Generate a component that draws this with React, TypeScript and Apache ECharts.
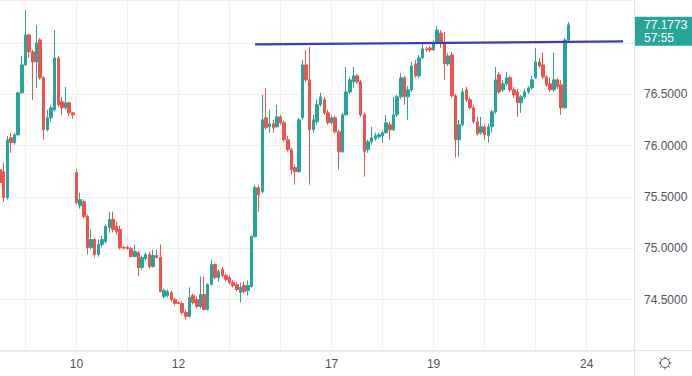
import React, { useEffect, useRef } from 'react';
import * as echarts from 'echarts';

// number of time slots on the x axis (trading hours, incl. empty space on the right)
const slotCount = 175;

// day boundaries: [slot index, day label, show label]
const dayTicks: [number, string, boolean][] = [
  [7, '9', false], [21, '10', true], [35, '11', false], [49, '12', true],
  [63, '13', false], [77, '16', false], [91, '17', true], [105, '18', false],
  [119, '19', true], [133, '20', false], [147, '23', false], [161, '24', true],
];

// candles: [open, close, low, high]
const candles: number[][] = [
  [75.766, 75.640, 75.611, 75.805], [75.747, 75.494, 75.455, 75.834], [75.494, 76.058, 75.474, 76.097],
  [76.077, 76.029, 75.931, 76.126], [76.029, 76.106, 76.009, 76.126], [76.106, 76.515, 76.097, 76.524],
  [76.515, 76.787, 76.505, 76.874], [76.787, 77.079, 76.777, 77.322], [77.079, 76.913, 76.855, 77.088],
  [76.913, 76.816, 76.447, 76.933], [76.816, 77.001, 76.563, 77.176], [77.030, 76.661, 76.641, 77.050],
  [76.661, 76.155, 76.058, 76.680], [76.155, 76.272, 76.136, 76.350], [76.272, 76.369, 76.233, 76.398],
  [76.350, 76.855, 76.330, 77.127], [76.855, 76.398, 76.379, 76.874], [76.427, 76.369, 76.301, 76.476],
  [76.369, 76.418, 76.350, 76.573], [76.418, 76.320, 76.291, 76.427], [76.320, 76.301, 76.262, 76.330],
  [75.737, 75.445, 75.426, 75.776], [75.416, 75.474, 75.387, 75.543], [75.455, 75.309, 75.290, 75.474],
  [75.309, 75.008, 74.940, 75.329], [75.008, 75.086, 74.988, 75.183], [75.086, 74.940, 74.911, 75.105],
  [74.940, 75.037, 74.920, 75.086], [75.037, 75.086, 75.008, 75.124], [75.066, 75.212, 75.047, 75.231],
  [75.202, 75.280, 75.154, 75.358], [75.280, 75.183, 75.154, 75.358], [75.212, 75.163, 75.134, 75.261],
  [75.183, 75.008, 74.988, 75.222], [75.008, 75.003, 74.988, 75.027], [75.008, 74.998, 74.988, 75.027],
  [74.998, 74.920, 74.911, 75.017], [74.920, 74.969, 74.911, 75.037], [74.959, 74.813, 74.726, 74.969],
  [74.813, 74.911, 74.794, 74.930], [74.901, 74.940, 74.881, 74.959], [74.940, 74.823, 74.804, 74.969],
  [74.823, 74.930, 74.813, 74.988], [74.930, 74.911, 74.901, 74.988], [74.911, 74.580, 74.570, 75.037],
  [74.531, 74.590, 74.512, 74.609], [74.541, 74.580, 74.522, 74.599], [74.570, 74.502, 74.483, 74.590],
  [74.502, 74.463, 74.444, 74.522], [74.473, 74.463, 74.454, 74.483], [74.463, 74.376, 74.356, 74.483],
  [74.376, 74.337, 74.308, 74.395], [74.337, 74.522, 74.327, 74.619], [74.541, 74.473, 74.454, 74.560],
  [74.502, 74.434, 74.415, 74.531], [74.434, 74.551, 74.415, 74.726], [74.551, 74.405, 74.395, 74.726],
  [74.405, 74.648, 74.395, 74.658], [74.648, 74.842, 74.638, 74.891], [74.842, 74.716, 74.697, 74.852],
  [74.716, 74.774, 74.677, 74.794], [74.794, 74.735, 74.716, 74.813], [74.735, 74.697, 74.677, 74.755],
  [74.716, 74.667, 74.648, 74.735], [74.667, 74.638, 74.619, 74.687], [74.648, 74.599, 74.580, 74.667],
  [74.570, 74.619, 74.473, 74.667], [74.638, 74.580, 74.560, 74.677], [74.590, 74.638, 74.541, 74.687],
  [74.629, 75.115, 74.619, 75.124], [75.115, 75.591, 75.105, 75.620], [75.591, 75.523, 75.358, 75.620],
  [75.552, 76.252, 75.533, 76.495], [76.272, 76.175, 76.155, 76.563], [76.184, 76.213, 76.126, 76.350],
  [76.213, 76.175, 76.126, 76.252], [76.184, 76.281, 76.175, 76.398], [76.281, 76.223, 76.204, 76.301],
  [76.223, 76.058, 76.038, 76.243], [76.058, 75.961, 75.941, 76.097], [75.961, 75.766, 75.718, 75.980],
  [75.786, 75.747, 75.620, 75.815], [75.747, 76.252, 75.737, 76.272], [76.272, 76.787, 76.252, 76.836],
  [76.787, 76.641, 76.622, 76.933], [76.641, 76.155, 75.620, 76.962], [76.155, 76.252, 76.126, 76.301],
  [76.233, 76.398, 76.204, 76.447], [76.398, 76.476, 76.379, 76.515], [76.447, 76.320, 76.301, 76.476],
  [76.320, 76.223, 76.204, 76.350], [76.223, 76.272, 76.204, 76.291], [76.272, 76.136, 76.116, 76.291],
  [76.136, 75.941, 75.766, 76.155], [75.941, 76.301, 75.931, 76.320], [76.301, 76.524, 76.291, 76.768],
  [76.524, 76.641, 76.505, 76.670], [76.622, 76.680, 76.563, 76.768], [76.680, 76.622, 76.602, 76.700],
  [76.622, 76.301, 76.281, 76.641], [76.301, 75.941, 75.698, 76.320], [75.961, 76.038, 75.931, 76.058],
  [76.038, 76.077, 76.009, 76.184], [76.068, 76.097, 76.048, 76.126], [76.087, 76.106, 76.068, 76.126],
  [76.097, 76.126, 76.029, 76.145], [76.126, 76.223, 76.116, 76.301], [76.204, 76.155, 76.058, 76.233],
  [76.155, 76.301, 76.145, 76.476], [76.301, 76.476, 76.281, 76.495], [76.476, 76.661, 76.456, 76.709],
  [76.661, 76.476, 76.398, 76.680], [76.476, 76.544, 76.252, 76.583], [76.544, 76.777, 76.524, 76.816],
  [76.797, 76.680, 76.661, 76.836], [76.680, 76.855, 76.661, 76.884], [76.855, 76.943, 76.845, 77.001],
  [76.943, 76.933, 76.913, 76.962], [76.952, 76.933, 76.913, 76.972], [76.933, 77.001, 76.923, 77.030],
  [77.001, 77.127, 76.991, 77.166], [77.098, 77.001, 76.952, 77.127], [77.001, 76.797, 76.641, 77.108],
  [76.797, 76.874, 76.777, 76.904], [76.884, 76.486, 76.466, 76.913], [76.486, 76.058, 75.883, 76.505],
  [76.058, 76.204, 75.893, 76.252], [76.204, 76.524, 76.184, 76.563], [76.544, 76.447, 76.427, 76.573],
  [76.447, 76.369, 76.350, 76.476], [76.369, 76.233, 76.213, 76.398], [76.233, 76.116, 76.097, 76.281],
  [76.126, 76.184, 76.106, 76.281], [76.184, 76.106, 76.058, 76.204], [76.097, 76.184, 76.029, 76.213],
  [76.184, 76.330, 76.126, 76.350], [76.330, 76.641, 76.311, 76.768], [76.690, 76.524, 76.505, 76.719],
  [76.544, 76.602, 76.524, 76.641], [76.602, 76.661, 76.583, 76.719], [76.661, 76.544, 76.524, 76.680],
  [76.544, 76.495, 76.466, 76.573], [76.524, 76.418, 76.281, 76.554], [76.418, 76.476, 76.320, 76.495],
  [76.476, 76.524, 76.456, 76.554], [76.524, 76.563, 76.505, 76.583], [76.563, 76.641, 76.544, 76.680],
  [76.661, 76.816, 76.651, 76.952], [76.816, 76.777, 76.758, 76.855], [76.787, 76.670, 76.651, 76.904],
  [76.670, 76.593, 76.573, 76.690], [76.602, 76.544, 76.524, 76.661], [76.544, 76.641, 76.524, 76.904],
  [76.641, 76.573, 76.554, 76.661], [76.593, 76.369, 76.301, 76.641], [76.369, 77.030, 76.359, 77.050],
  [77.030, 77.1773, 77.011, 77.205],
];

// trend line drawn by hand: [slot, price] at both ends
const trendStart: [number, number] = [70, 76.986];
const trendEnd: [number, number] = [171, 77.016];

const lastPrice = 77.1773;
const countdown = '57:55';

const priceMin = 74.0;
const priceMax = 77.419;
const priceStep = 0.5;
const labelledPrices = [74.5, 75.0, 75.5, 76.0, 76.5];

const UP = '#26a69a';
const DOWN = '#ef5350';
const TEXT = '#50535e';
const FONT = '"Liberation Sans", Arial, sans-serif';

export default function App() {
  const ref = useRef<HTMLDivElement>(null);

  useEffect(() => {
    const el = ref.current!;
    const chart = echarts.init(el, null, { renderer: 'svg' });

    const slots = Array.from({ length: slotCount }, (_, i) => String(i));
    const tickSet = new Set(dayTicks.map((d) => d[0]));

    chart.setOption({
      animation: false,
      backgroundColor: '#ffffff',
      grid: { left: 0, right: 58, top: 0, bottom: 25, containLabel: false },
      xAxis: {
        type: 'category',
        data: slots,
        boundaryGap: false,
        axisLine: { show: false },
        axisTick: { show: false },
        axisLabel: { show: false },
        splitLine: {
          show: true,
          interval: (idx: number) => tickSet.has(idx),
          lineStyle: { color: '#fbeee0', width: 1 },
        },
      },
      yAxis: {
        type: 'value',
        position: 'right',
        min: priceMin,
        max: priceMax,
        interval: priceStep,
        axisLine: { show: false },
        axisTick: { show: false },
        axisLabel: {
          margin: 10,
          color: TEXT,
          fontSize: 12,
          fontFamily: FONT,
          showMaxLabel: false,
          formatter: (v: number) =>
            labelledPrices.some((p) => Math.abs(p - v) < 1e-6) ? v.toFixed(4) : '',
        },
        splitLine: { show: true, lineStyle: { color: '#f1eeea', width: 1 } },
      },
      series: [
        {
          type: 'candlestick',
          data: candles,
          barWidth: 3,
          itemStyle: {
            color: UP,
            color0: DOWN,
            borderColor: UP,
            borderColor0: DOWN,
            borderWidth: 1,
          },
          markLine: {
            silent: true,
            symbol: ['none', 'none'],
            label: { show: false },
            lineStyle: { color: '#3a3fb8', width: 2.2, type: 'solid' },
            data: [[{ coord: trendStart }, { coord: trendEnd }]],
          },
        },
      ],
    });

    const py = chart.convertToPixel({ yAxisIndex: 0 }, lastPrice) as number;
    const axisY = chart.convertToPixel({ yAxisIndex: 0 }, priceMin) as number;

    // day labels on the time axis, placed through the x axis scale
    const dayLabels: any[] = dayTicks
      .filter((d) => d[2])
      .map(([i, lbl]) => ({
        type: 'text',
        x: chart.convertToPixel({ xAxisIndex: 0 }, i) as number,
        y: axisY + 12.5,
        style: {
          text: lbl,
          fill: TEXT,
          font: `12px ${FONT}`,
          align: 'center',
          verticalAlign: 'middle',
          textAlign: 'center',
          textVerticalAlign: 'middle',
        },
      }));

    const gear: any[] = [];
    const gx = 665;
    const gy = 363;
    for (let k = 0; k < 8; k++) {
      const a = (k * Math.PI) / 4;
      gear.push({
        type: 'line',
        shape: {
          x1: gx + Math.cos(a) * 4.5,
          y1: gy + Math.sin(a) * 4.5,
          x2: gx + Math.cos(a) * 6.5,
          y2: gy + Math.sin(a) * 6.5,
        },
        style: { stroke: '#555a64', lineWidth: 1 },
      });
    }

    chart.setOption({
      graphic: [
        {
          type: 'line',
          shape: { x1: 0, y1: 350.5, x2: 692, y2: 350.5 },
          style: { stroke: '#e0e3eb', lineWidth: 1 },
        },
        {
          type: 'line',
          shape: { x1: 634.5, y1: 0, x2: 634.5, y2: 376 },
          style: { stroke: '#e0e3eb', lineWidth: 1 },
        },
        ...dayLabels,
        {
          type: 'rect',
          shape: { x: 635, y: py - 8, width: 57, height: 29 },
          style: { fill: UP },
        },
        {
          type: 'text',
          x: 644,
          y: py,
          style: {
            text: lastPrice.toFixed(4),
            fill: '#ffffff',
            font: `12px ${FONT}`,
            verticalAlign: 'middle',
            textVerticalAlign: 'middle',
          },
        },
        {
          type: 'text',
          x: 644,
          y: py + 13,
          style: {
            text: countdown,
            fill: '#ffffff',
            font: `12px ${FONT}`,
            verticalAlign: 'middle',
            textVerticalAlign: 'middle',
          },
        },
        {
          type: 'circle',
          shape: { cx: gx, cy: gy, r: 4.5 },
          style: { fill: 'none', stroke: '#555a64', lineWidth: 1 },
        },
        ...gear,
      ],
    });

    return () => chart.dispose();
  }, []);

  return (
    <div
      ref={ref}
      style={{ position: 'fixed', left: 0, top: 0, width: 692, height: 376, background: '#fff' }}
    />
  );
}
